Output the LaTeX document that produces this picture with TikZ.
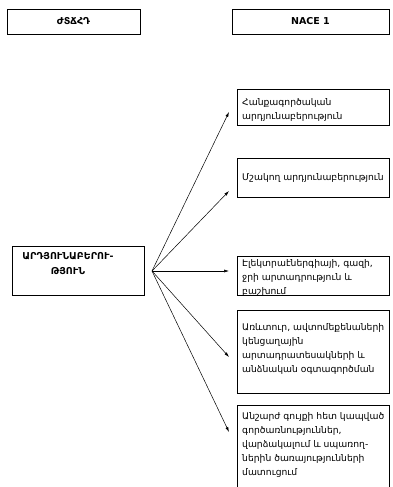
\documentclass[tikz,border=0pt]{standalone}
\usepackage{fontspec}
\setmainfont{DejaVu Sans}
\usetikzlibrary{arrows.meta}
\begin{document}
\begin{tikzpicture}[x=1pt,y=-1pt,
  box/.style={draw=black,line width=0.7pt,inner sep=0pt},
  txt/.style={anchor=north west,inner sep=0pt,align=left,font=\fontsize{9.2}{14}\selectfont},
  ttl/.style={inner sep=0pt,align=center,font=\fontsize{9.5}{15}\selectfont\bfseries},
  arr/.style={-{Latex[length=5pt,width=3pt]},line width=0.5pt}]
\clip (0,0) rectangle (392,487);
% top headers
\draw[box] (7,9) rectangle (140,34);
\node[ttl] (h1) at (73.5,21.5) {ԺՏՃՀԴ};
\draw[box] (232,9) rectangle (389,34);
\node[ttl] (h2) at (310.5,21.5) {NACE 1};
% left box
\draw[box] (12,246) rectangle (144,295);
\node[ttl,anchor=north] (src) at (68,252) {ԱՐԴՅՈՒՆԱԲԵՐՈՒ-\\ԹՅՈՒՆ};
\coordinate (o) at (152,271);
% right boxes
\draw[box] (237,89) rectangle (389,125);
\node[txt] (b1) at (242,98) {Հանքագործական\\արդյունաբերություն};
\draw[box] (237,158) rectangle (389,197);
\node[txt] (b2) at (242,173) {Մշակող արդյունաբերություն};
\draw[box] (237,256) rectangle (389,295);
\node[txt] (b3) at (242,259) {Էլեկտրաէներգիայի, գազի,\\ջրի արտադրություն և\\բաշխում};
\draw[box] (237,310) rectangle (389,393);
\node[txt] (b4) at (242,323) {Առևտուր, ավտոմեքենաների\\կենցաղային\\արտադրատեսակների և\\անձնական օգտագործման};
\draw[box] (237,405) rectangle (389,500);
\node[txt] (b5) at (242,412) {Անշարժ գույքի հետ կապված\\գործառնություններ,\\վարձակալում և սպառող-\\ներին ծառայությունների\\մատուցում};
% arrow ends
\coordinate (e1) at (229,112);
\coordinate (e2) at (229,191);
\coordinate (e3) at (229,271);
\coordinate (e4) at (229,357);
\coordinate (e5) at (229,432);
\foreach \e in {e1,e2,e3,e4,e5} \draw[arr] (o) -- (\e);
\end{tikzpicture}
\end{document}
